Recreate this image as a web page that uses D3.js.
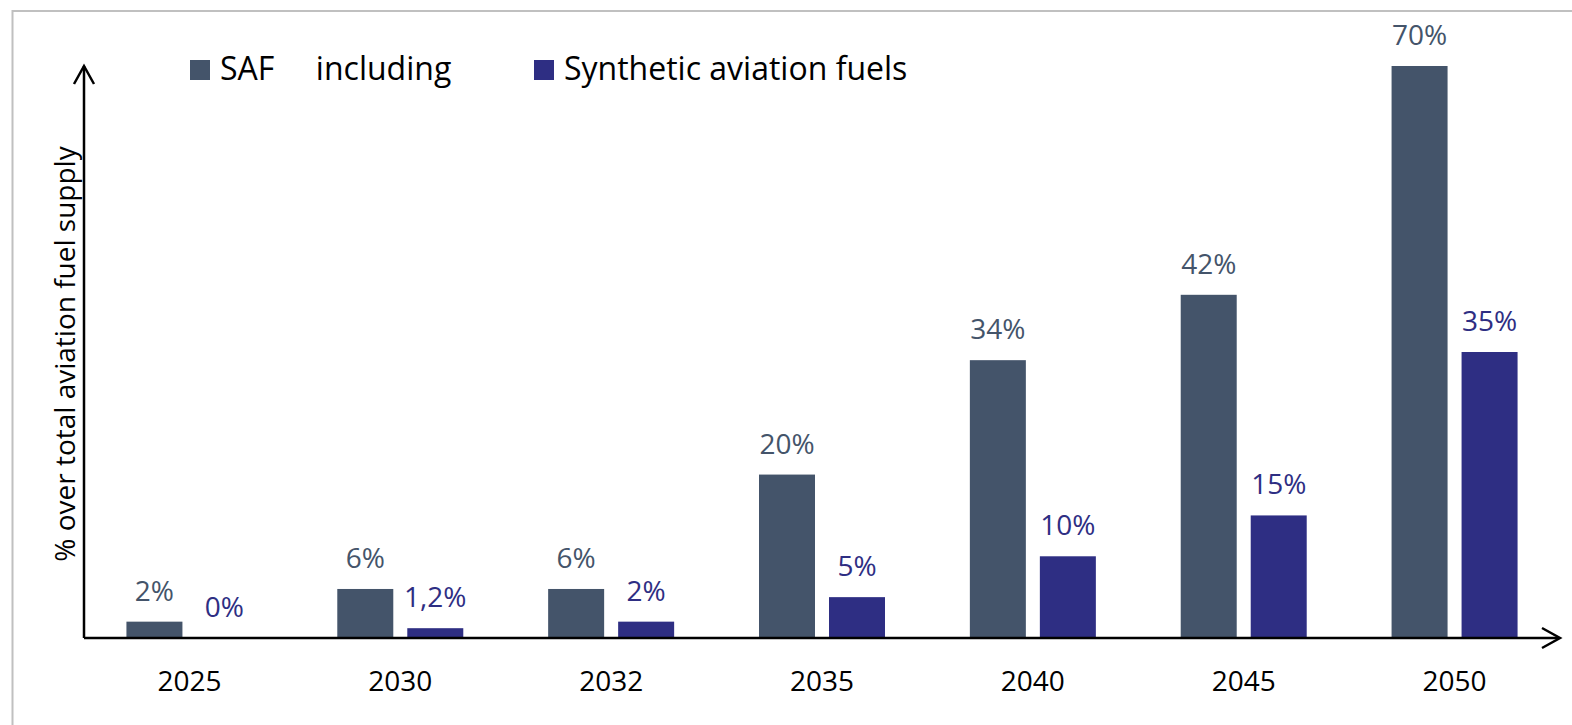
<!DOCTYPE html>
<html>
<head>
<meta charset="utf-8">
<script src="https://cdn.jsdelivr.net/npm/d3@7"></script>
<style>
  html, body { margin: 0; padding: 0; background: #fff; }
  svg { display: block; font-family: "Open Sans", "Noto Sans", sans-serif; }
</style>
</head>
<body>
<svg id="chart" width="1572" height="725"></svg>
<script>
const categories = ["2025", "2030", "2032", "2035", "2040", "2045", "2050"];
const seriesNames = ["SAF     including", "Synthetic aviation fuels"];
const safValues = [2, 6, 6, 20, 34, 42, 70];
const synthValues = [0, 1.2, 2, 5, 10, 15, 35];
const safLabels = ["2%", "6%", "6%", "20%", "34%", "42%", "70%"];
const synthLabels = ["0%", "1,2%", "2%", "5%", "10%", "15%", "35%"];
const colors = ["#44546a", "#2e2e83"];
const yTitle = "% over total aviation fuel supply";

const svg = d3.select("#chart");
const W = 1572, H = 725;
const x0 = 84, x1 = 1560, yBase = 638, yTop = 66;

// frame
svg.append("rect").attr("x", 12.5).attr("y", 11).attr("width", W + 10).attr("height", H + 10)
  .attr("fill", "none").attr("stroke", "#c0c0c0").attr("stroke-width", 2);

const x = d3.scaleBand().domain(categories).range([x0, x1]).paddingInner(0).paddingOuter(0);
const groupW = 126;
const inner = d3.scaleBand().domain([0, 1]).range([0, groupW]).paddingInner(14 / 70).paddingOuter(0);
const y = d3.scaleLinear().domain([0, 70]).range([yBase, yTop]);

const series = [
  { values: safValues, labels: safLabels, color: colors[0] },
  { values: synthValues, labels: synthLabels, color: colors[1] }
];

const offset = (x.bandwidth() - groupW) / 2;

series.forEach((s, si) => {
  const g = svg.append("g");
  g.selectAll("rect").data(categories).join("rect")
    .attr("x", c => x(c) + offset + inner(si))
    .attr("y", (c, i) => y(s.values[i]))
    .attr("width", inner.bandwidth())
    .attr("height", (c, i) => yBase - y(s.values[i]))
    .attr("fill", s.color);
  g.selectAll("text").data(categories).join("text")
    .attr("x", c => x(c) + offset + inner(si) + inner.bandwidth() / 2)
    .attr("y", (c, i) => y(s.values[i]) - 21)
    .attr("text-anchor", "middle")
    .attr("font-size", 28)
    .attr("fill", s.color)
    .text((c, i) => s.labels[i]);
});

// axes
const axisG = svg.append("g").attr("stroke", "#000").attr("stroke-width", 2.5).attr("fill", "none");
axisG.append("line").attr("x1", x0).attr("y1", yBase).attr("x2", x0).attr("y2", yTop);
axisG.append("polyline").attr("points", `${x0 - 10},${yTop + 18} ${x0},${yTop} ${x0 + 10},${yTop + 18}`);
axisG.append("line").attr("x1", x0).attr("y1", yBase).attr("x2", x1 - 1).attr("y2", yBase);
axisG.append("polyline").attr("points", `${x1 - 18},${yBase - 10} ${x1},${yBase} ${x1 - 18},${yBase + 10}`);

// category labels via axis
const xAxis = d3.axisBottom(x).tickSize(0).tickPadding(0);
const xa = svg.append("g").attr("transform", `translate(0,${yBase})`).call(xAxis);
xa.select(".domain").remove();
xa.selectAll("text").attr("font-size", 28).attr("fill", "#000")
  .attr("font-family", "Open Sans, sans-serif").attr("dy", null).attr("y", 53);

// y title
svg.append("text")
  .attr("transform", `translate(75,354) rotate(-90)`)
  .attr("text-anchor", "middle")
  .attr("font-size", 28)
  .attr("fill", "#000")
  .text(yTitle);

// legend
const legend = [
  { name: seriesNames[0], color: colors[0], x: 190 },
  { name: seriesNames[1], color: colors[1], x: 534 }
];
legend.forEach(l => {
  svg.append("rect").attr("x", l.x).attr("y", 60).attr("width", 20).attr("height", 20).attr("fill", l.color);
  svg.append("text").attr("x", l.x + 30).attr("y", 80).attr("font-size", 32).attr("fill", "#000")
    .attr("xml:space", "preserve").style("white-space", "pre").text(l.name);
});
</script>
</body>
</html>
